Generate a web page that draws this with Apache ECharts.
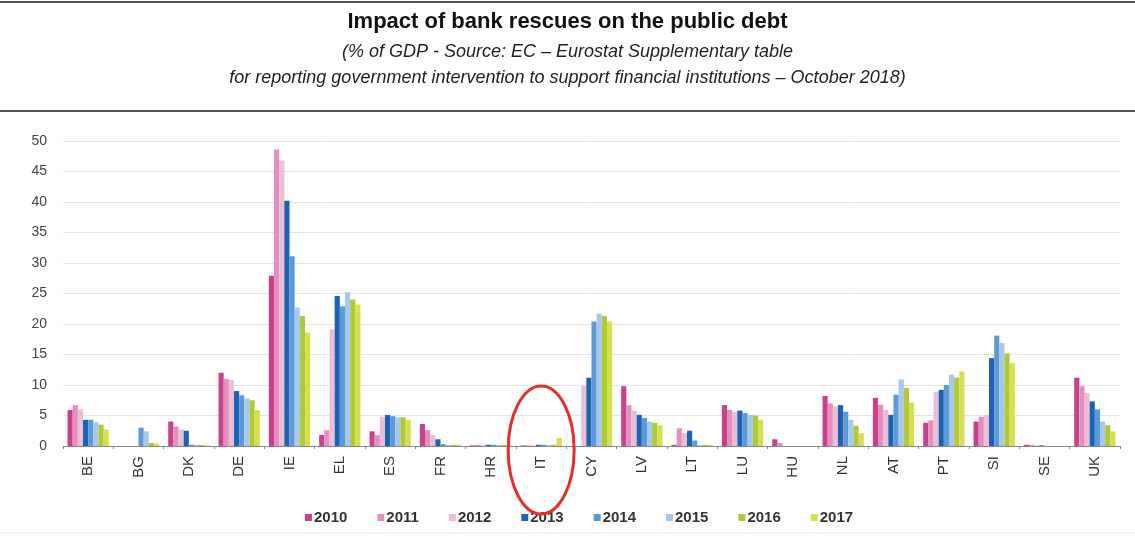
<!DOCTYPE html>
<html>
<head>
<meta charset="utf-8">
<script src="https://cdn.jsdelivr.net/npm/echarts@6/dist/echarts.min.js"></script>
<style>
  html, body { margin: 0; padding: 0; background: #fff; }
  #chart { width: 1135px; height: 544px; }
</style>
</head>
<body>
<div id="chart"></div>
<script>
// Member states on the category axis
const countries = ['BE','BG','DK','DE','IE','EL','ES','FR','HR','IT','CY','LV','LT','LU','HU','NL','AT','PT','SI','SE','UK'];

// Yearly values (% of GDP), one entry per country above
const y2010 = [5.9, 0, 4.0, 12.0, 27.9, 1.8, 2.4, 3.6, 0.1, 0.1, 0, 9.8, 0.2, 6.7, 1.1, 8.2, 7.9, 3.8, 4.0, 0.2, 11.2];
const y2011 = [6.7, 0, 3.2, 11.0, 48.6, 2.6, 1.8, 2.6, 0.2, 0.1, 0, 6.7, 2.9, 5.9, 0.5, 7.0, 6.8, 4.2, 4.8, 0.2, 9.8];
const y2012 = [6.0, 0, 2.7, 10.8, 46.8, 19.1, 4.8, 1.8, 0.1, 0.1, 9.8, 5.8, 2.1, 5.6, 0, 6.5, 5.9, 8.9, 5.1, 0.1, 8.7];
const y2013 = [4.3, 0, 2.5, 9.0, 40.2, 24.6, 5.1, 1.1, 0.2, 0.2, 11.2, 5.1, 2.5, 5.8, 0, 6.7, 5.1, 9.2, 14.4, 0.1, 7.3];
const y2014 = [4.3, 3.0, 0.2, 8.3, 31.1, 22.9, 4.9, 0.3, 0.2, 0.2, 20.4, 4.6, 0.9, 5.4, 0, 5.6, 8.4, 10.0, 18.1, 0, 6.0];
const y2015 = [3.9, 2.4, 0.2, 7.8, 22.7, 25.2, 4.7, 0.2, 0.2, 0.2, 21.7, 4.0, 0.2, 5.1, 0, 4.3, 10.9, 11.7, 16.9, 0, 4.0];
const y2016 = [3.5, 0.5, 0.2, 7.5, 21.3, 24.0, 4.7, 0.2, 0.2, 0.2, 21.3, 3.8, 0.2, 5.0, 0, 3.3, 9.5, 11.2, 15.2, 0, 3.4];
const y2017 = [2.7, 0.4, 0.1, 5.9, 18.6, 23.2, 4.3, 0.2, 0.1, 1.3, 20.4, 3.4, 0.2, 4.3, 0, 2.1, 7.1, 12.2, 13.6, 0, 2.4];

const years = ['2010','2011','2012','2013','2014','2015','2016','2017'];
const yearValues = [y2010, y2011, y2012, y2013, y2014, y2015, y2016, y2017];
const yearColors = ['#c9418e','#e48fc0','#ecbdd4','#1d63b3','#5b9ad8','#a5c8ec','#afc93a','#d6df4e'];

// Country singled out with a red ring
const highlighted = 'IT';

const chart = echarts.init(document.getElementById('chart'), null, { renderer: 'canvas' });

const series = years.map((yr, i) => ({
  name: yr,
  type: 'bar',
  data: yearValues[i],
  itemStyle: { color: yearColors[i] },
  barGap: '0%',
  barCategoryGap: '18%',
  emphasis: { disabled: true }
}));

chart.setOption({
  animation: false,
  backgroundColor: '#ffffff',
  title: {
    text: 'Impact of bank rescues on the public debt',
    subtext: '(% of GDP - Source: EC \u2013 Eurostat Supplementary table\nfor reporting government intervention to support financial institutions \u2013 October 2018)',
    left: 'center',
    top: 6,
    itemGap: 6,
    textStyle: {
      fontFamily: 'Liberation Sans, Arial, sans-serif',
      fontSize: 22,
      fontWeight: 'bold',
      color: '#111'
    },
    subtextStyle: {
      fontFamily: 'Liberation Sans, Arial, sans-serif',
      fontSize: 18,
      fontStyle: 'italic',
      color: '#222',
      lineHeight: 26,
      align: 'center'
    }
  },
  legend: {
    data: years,
    bottom: 14,
    left: 300,
    itemWidth: 7,
    itemHeight: 7,
    itemGap: 30,
    icon: 'rect',
    textStyle: {
      fontFamily: 'Liberation Sans, Arial, sans-serif',
      fontSize: 15,
      fontWeight: 'bold',
      color: '#333',
      padding: [0, 0, 0, -3]
    }
  },
  grid: { left: 63, right: 15, top: 141, bottom: 98, containLabel: false },
  xAxis: {
    type: 'category',
    data: countries,
    axisLine: { lineStyle: { color: '#888', width: 1 } },
    axisTick: { show: true, length: 3, lineStyle: { color: '#888' } },
    axisLabel: {
      rotate: 90,
      margin: 10,
      fontFamily: 'Liberation Sans, Arial, sans-serif',
      fontSize: 15,
      color: '#333'
    }
  },
  yAxis: {
    type: 'value',
    min: 0,
    max: 50,
    interval: 5,
    axisLine: { show: false },
    axisTick: { show: false },
    splitLine: { lineStyle: { color: '#e4e4e4', width: 1 } },
    axisLabel: {
      margin: 16,
      fontFamily: 'Liberation Sans, Arial, sans-serif',
      fontSize: 14,
      color: '#444'
    }
  },
  series: series
});

// Rules above the plot and the red ring around the highlighted country
const ringX = chart.convertToPixel({ xAxisIndex: 0 }, highlighted);
const ringY = chart.convertToPixel({ yAxisIndex: 0 }, 0);
chart.setOption({
  graphic: [
    { type: 'line', shape: { x1: 0, y1: 2, x2: 1135, y2: 2 }, style: { stroke: '#555', lineWidth: 2 } },
    { type: 'line', shape: { x1: 0, y1: 111, x2: 1135, y2: 111 }, style: { stroke: '#555', lineWidth: 2 } },
    { type: 'line', shape: { x1: 0, y1: 533, x2: 1135, y2: 533 }, style: { stroke: '#e6e6e6', lineWidth: 1 } },
    {
      type: 'ellipse',
      shape: { cx: ringX, cy: ringY + 4, rx: 33, ry: 64 },
      style: { fill: 'none', stroke: '#e0302c', lineWidth: 3 },
      z: 100
    }
  ]
});
</script>
</body>
</html>
